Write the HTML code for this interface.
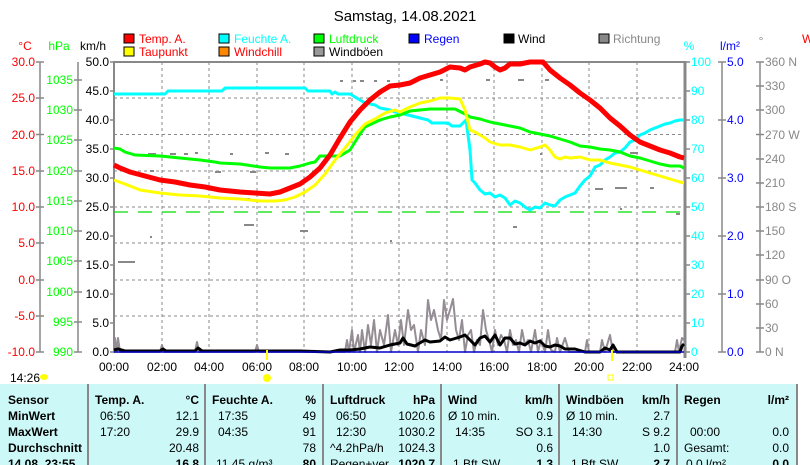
<!DOCTYPE html>
<html><head><meta charset="utf-8"><style>
html,body{margin:0;padding:0;background:#fff;width:810px;height:465px;overflow:hidden}
svg{position:absolute;left:0;top:0}
text{font-family:"Liberation Sans",sans-serif;font-size:12px}
</style></head><body>
<svg width="810" height="465" viewBox="0 0 810 465">
<text x="405" y="21" text-anchor="middle" font-size="15" style="font-size:15px">Samstag, 14.08.2021</text>
<!-- legend -->
<g font-size="12">
<rect x="124" y="34" width="10" height="9" fill="#f00" stroke="#000"/><text x="139" y="43" fill="#f00">Temp. A.</text>
<rect x="124" y="47" width="10" height="9" fill="#ff0" stroke="#000"/><text x="139" y="56" fill="#f00">Taupunkt</text>
<rect x="219" y="34" width="10" height="9" fill="#0ff" stroke="#000"/><text x="234" y="43" fill="#0ff">Feuchte A.</text>
<rect x="219" y="47" width="10" height="9" fill="#f80" stroke="#000"/><text x="234" y="56" fill="#f00">Windchill</text>
<rect x="314" y="34" width="10" height="9" fill="#0f0" stroke="#000"/><text x="329" y="43" fill="#0f0">Luftdruck</text>
<rect x="314" y="47" width="10" height="9" fill="#999" stroke="#000"/><text x="329" y="56">Windböen</text>
<rect x="409" y="34" width="10" height="9" fill="#00f" stroke="#000"/><text x="424" y="43" fill="#00f">Regen</text>
<rect x="504" y="34" width="10" height="9" fill="#000" stroke="#000"/><text x="518" y="43">Wind</text>
<rect x="599" y="34" width="10" height="9" fill="#888" stroke="#000"/><text x="613" y="43" fill="#888">Richtung</text>
</g>
<!-- axis unit labels -->
<text x="25" y="50" text-anchor="middle" fill="#f00">°C</text>
<text x="59" y="50" text-anchor="middle" fill="#0f0">hPa</text>
<text x="93" y="50" text-anchor="middle">km/h</text>
<text x="689" y="50" text-anchor="middle" fill="#0ff">%</text>
<text x="730" y="50" text-anchor="middle" fill="#00f">l/m²</text>
<text x="761" y="45" text-anchor="middle" fill="#888">°</text>
<text x="802" y="43" fill="#f00">W</text>
<!-- grid -->
<g stroke="#888" stroke-dasharray="3,3" stroke-width="1">
<line x1="114" y1="98" x2="684" y2="98"/><line x1="114" y1="134.5" x2="684" y2="134.5"/><line x1="114" y1="171" x2="684" y2="171"/><line x1="114" y1="207" x2="684" y2="207"/><line x1="114" y1="243" x2="684" y2="243"/><line x1="114" y1="280" x2="684" y2="280"/><line x1="114" y1="316" x2="684" y2="316"/>
<line x1="162" y1="62" x2="162" y2="352"/><line x1="209" y1="62" x2="209" y2="352"/><line x1="257" y1="62" x2="257" y2="352"/><line x1="304" y1="62" x2="304" y2="352"/><line x1="352" y1="62" x2="352" y2="352"/><line x1="399" y1="62" x2="399" y2="352"/><line x1="447" y1="62" x2="447" y2="352"/><line x1="494" y1="62" x2="494" y2="352"/><line x1="542" y1="62" x2="542" y2="352"/><line x1="589" y1="62" x2="589" y2="352"/><line x1="637" y1="62" x2="637" y2="352"/>
</g>
<line x1="114" y1="62" x2="684" y2="62" stroke="#888" stroke-width="2"/>
<line x1="114" y1="61" x2="114" y2="353" stroke="#888" stroke-width="2"/>
<line x1="685" y1="61" x2="685" y2="358" stroke="#888" stroke-width="3"/>
<line x1="114" y1="212" x2="684" y2="212" stroke="#0d0" stroke-dasharray="14,10" stroke-width="1.2"/>
<!-- direction dots -->
<g fill="#888">
<rect x="118" y="261" width="17" height="2"/><rect x="353" y="80" width="3" height="2"/><rect x="340" y="80" width="3" height="2"/><rect x="360" y="80" width="4" height="2"/><rect x="374" y="80" width="3" height="2"/><rect x="387" y="80" width="3" height="2"/><rect x="440" y="79" width="3" height="2"/><rect x="486" y="79" width="4" height="2"/><rect x="518" y="79" width="6" height="2"/><rect x="545" y="79" width="4" height="2"/><rect x="560" y="79" width="3" height="2"/><rect x="240" y="198" width="10" height="2"/><rect x="244" y="224" width="10" height="2"/><rect x="300" y="230" width="8" height="2"/><rect x="150" y="236" width="2" height="2"/><rect x="615" y="187" width="12" height="2"/><rect x="650" y="187" width="4" height="2"/><rect x="595" y="188" width="8" height="2"/><rect x="620" y="208" width="2" height="2"/><rect x="676" y="213" width="4" height="2"/><rect x="513" y="226" width="4" height="2"/><rect x="148" y="153" width="8" height="2"/><rect x="170" y="153" width="6" height="2"/><rect x="184" y="153" width="4" height="2"/><rect x="195" y="152" width="3" height="2"/><rect x="230" y="153" width="3" height="2"/><rect x="265" y="152" width="4" height="2"/><rect x="285" y="153" width="4" height="2"/><rect x="150" y="170" width="4" height="2"/><rect x="215" y="171" width="6" height="2"/><rect x="250" y="171" width="6" height="2"/><rect x="390" y="240" width="2" height="2"/><rect x="540" y="153" width="2" height="2"/><rect x="630" y="152" width="8" height="2"/></g>
<!-- series -->
<g fill="none" stroke-linejoin="round">
<polyline stroke="#0ff" stroke-width="3" points="114,94 165,94 168,91 222,91 225,88 305,88 308,91 330,91 332,94 335,92 338,94 350,94 355,97 360,100 365,103 375,105 380,108 390,110 395,112 400,113 428,120 432,123 448,123 452,126 460,126 466,120 470,150 472,180 475,183 480,190 485,194 490,193 495,197 500,195 505,198 510,205 515,201 520,203 525,207 530,210 535,207 540,208 545,203 550,205 555,206 560,200 565,197 570,195 575,193 580,186 585,180 590,176 595,167 600,165 605,160 610,157 615,153 620,152 625,148 630,142 635,140 640,135 645,133 650,130 655,128 660,126 665,124 670,123 675,121 680,120 684,120"/>
<polyline stroke="#0f0" stroke-width="3" points="114,148 120,149 125,152 135,155 160,156 180,158 200,160 215,162 220,163 240,164 260,167 270,168 290,168 300,166 310,163 315,162 320,156 340,156 350,150 355,142 360,134 365,127 380,120 390,117 400,115 410,111 420,110 430,109 440,109 455,109 465,114 470,117 480,119 490,122 500,124 510,126 520,128 530,132 540,134 550,136 560,139 570,142 580,146 590,147 600,149 610,150 620,152 630,156 640,158 650,161 660,164 670,166 680,166 684,168"/>
<polyline stroke="#ff0" stroke-width="3" points="114,180 125,184 140,190 160,193 180,195 200,196 220,198 240,199 260,201 275,201 285,200 295,197 305,192 315,185 325,174 335,160 345,148 355,135 365,124 375,119 385,113 395,110 400,112 410,107 420,103 430,101 440,98 450,98 460,99 465,110 470,130 475,132 480,135 485,138 490,142 500,145 510,145 520,147 530,150 540,147 545,145 550,150 555,157 560,159 565,157 570,158 580,157 590,160 600,160 610,163 620,165 630,167 640,170 650,173 660,176 670,179 680,182 684,183"/>
<polyline stroke="#f00" stroke-width="5" points="114,165 120,168 130,172 145,176 160,180 175,182 190,185 205,187 220,190 240,192 255,193 270,194 280,192 290,188 300,184 310,177 320,168 330,155 340,138 350,122 360,110 370,100 380,92 390,86 400,85 410,83 420,78 430,75 440,72 450,67 460,68 465,70 470,67 480,64 485,62 490,63 495,67 500,70 505,68 510,64 520,64 530,62 543,62 550,70 560,78 570,85 580,93 590,100 600,108 610,118 620,126 630,135 640,142 650,146 660,150 670,153 680,157 684,158"/>
<polyline stroke="#958d94" stroke-width="2" points="114,352 115,338 117,352 118,338 120,352 160,352 162,345 164,352 195,352 197,342 199,352 255,352 257,345 259,352 345,352 347,340 349,352 352,330 354,352 358,335 360,352 362,330 365,352 368,325 371,345 374,320 377,352 380,330 384,345 388,315 391,352 395,330 398,345 401,320 404,345 408,310 411,330 414,325 418,352 421,330 425,345 428,300 431,320 434,310 438,330 441,340 444,300 447,320 450,310 453,299 456,330 459,340 462,320 465,352 468,335 471,330 474,352 477,340 480,345 483,310 486,330 489,340 492,352 495,330 498,345 501,335 504,340 507,352 510,330 513,345 516,340 519,352 522,330 525,345 528,340 531,352 535,330 538,352 541,340 545,352 548,330 551,350 555,352 557,338 560,352 565,338 569,352 585,352 587,340 589,352 600,352 602,340 605,352 610,335 613,352 675,352 677,340 679,352 682,338 684,340"/>
<polyline stroke="#000" stroke-width="3" points="114,350 118,349 125,351 160,351 163,349 166,351 195,351 198,348 202,351 300,351 330,352 340,350 350,350 360,349 370,347 380,348 390,345 400,343 403,338 407,344 415,346 418,344 425,340 430,342 440,341 445,337 450,340 460,337 465,335 470,340 475,345 480,338 485,336 490,342 495,335 500,345 505,338 510,338 515,344 520,343 525,345 530,341 535,343 540,341 545,346 550,347 555,345 560,346 565,349 575,349 585,352 600,352 605,348 610,350 613,345 617,352 680,352 682,346 684,344"/>
</g>
<line x1="114" y1="352" x2="684" y2="352" stroke="#00c" stroke-width="1.5"/>
<!-- left axes -->
<g stroke="#888" stroke-width="1.5"><line x1="40" y1="62" x2="40" y2="352"/><line x1="78" y1="62" x2="78" y2="352"/>
<line x1="36" y1="62" x2="44" y2="62"/><line x1="36" y1="98" x2="44" y2="98"/><line x1="36" y1="134.5" x2="44" y2="134.5"/><line x1="36" y1="171" x2="44" y2="171"/><line x1="36" y1="207" x2="44" y2="207"/><line x1="36" y1="243" x2="44" y2="243"/><line x1="36" y1="280" x2="44" y2="280"/><line x1="36" y1="316" x2="44" y2="316"/><line x1="36" y1="352" x2="44" y2="352"/>
<line x1="74" y1="80" x2="82" y2="80"/><line x1="74" y1="110" x2="82" y2="110"/><line x1="74" y1="140" x2="82" y2="140"/><line x1="74" y1="171" x2="82" y2="171"/><line x1="74" y1="201" x2="82" y2="201"/><line x1="74" y1="231" x2="82" y2="231"/><line x1="74" y1="261" x2="82" y2="261"/><line x1="74" y1="292" x2="82" y2="292"/><line x1="74" y1="322" x2="82" y2="322"/><line x1="74" y1="352" x2="82" y2="352"/>
<line x1="110" y1="62" x2="114" y2="62"/><line x1="110" y1="91" x2="114" y2="91"/><line x1="110" y1="120" x2="114" y2="120"/><line x1="110" y1="149" x2="114" y2="149"/><line x1="110" y1="178" x2="114" y2="178"/><line x1="110" y1="207" x2="114" y2="207"/><line x1="110" y1="236" x2="114" y2="236"/><line x1="110" y1="265" x2="114" y2="265"/><line x1="110" y1="294" x2="114" y2="294"/><line x1="110" y1="323" x2="114" y2="323"/><line x1="110" y1="352" x2="114" y2="352"/>
</g>
<g fill="#f00" text-anchor="end"><text x="35" y="66">30.0</text><text x="35" y="102">25.0</text><text x="35" y="139">20.0</text><text x="35" y="175">15.0</text><text x="35" y="211">10.0</text><text x="35" y="247">5.0</text><text x="35" y="284">0.0</text><text x="35" y="320">-5.0</text><text x="35" y="356">-10.0</text></g>
<g fill="#0f0" text-anchor="end"><text x="73" y="84">1035</text><text x="73" y="114">1030</text><text x="73" y="144">1025</text><text x="73" y="175">1020</text><text x="73" y="205">1015</text><text x="73" y="235">1010</text><text x="73" y="265">1005</text><text x="73" y="296">1000</text><text x="73" y="326">995</text><text x="73" y="356">990</text></g>
<g text-anchor="end"><text x="109" y="66">50.0</text><text x="109" y="95">45.0</text><text x="109" y="124">40.0</text><text x="109" y="153">35.0</text><text x="109" y="182">30.0</text><text x="109" y="211">25.0</text><text x="109" y="240">20.0</text><text x="109" y="269">15.0</text><text x="109" y="298">10.0</text><text x="109" y="327">5.0</text><text x="109" y="356">0.0</text></g>
<!-- right axes -->
<g stroke="#888" stroke-width="1.5"><line x1="722" y1="62" x2="722" y2="352"/><line x1="760" y1="62" x2="760" y2="352"/>
<line x1="718" y1="62" x2="726" y2="62"/><line x1="718" y1="120" x2="726" y2="120"/><line x1="718" y1="178" x2="726" y2="178"/><line x1="718" y1="236" x2="726" y2="236"/><line x1="718" y1="294" x2="726" y2="294"/><line x1="718" y1="352" x2="726" y2="352"/>
<line x1="686" y1="62" x2="690" y2="62"/><line x1="686" y1="91" x2="690" y2="91"/><line x1="686" y1="120" x2="690" y2="120"/><line x1="686" y1="149" x2="690" y2="149"/><line x1="686" y1="178" x2="690" y2="178"/><line x1="686" y1="207" x2="690" y2="207"/><line x1="686" y1="236" x2="690" y2="236"/><line x1="686" y1="265" x2="690" y2="265"/><line x1="686" y1="294" x2="690" y2="294"/><line x1="686" y1="323" x2="690" y2="323"/><line x1="686" y1="352" x2="690" y2="352"/>
<line x1="756" y1="62" x2="764" y2="62"/><line x1="756" y1="86" x2="764" y2="86"/><line x1="756" y1="110" x2="764" y2="110"/><line x1="756" y1="134.5" x2="764" y2="134.5"/><line x1="756" y1="159" x2="764" y2="159"/><line x1="756" y1="183" x2="764" y2="183"/><line x1="756" y1="207" x2="764" y2="207"/><line x1="756" y1="231" x2="764" y2="231"/><line x1="756" y1="255" x2="764" y2="255"/><line x1="756" y1="280" x2="764" y2="280"/><line x1="756" y1="304" x2="764" y2="304"/><line x1="756" y1="328" x2="764" y2="328"/><line x1="756" y1="352" x2="764" y2="352"/>
</g>
<g fill="#0ff"><text x="691" y="66">100</text><text x="691" y="95">90</text><text x="691" y="124">80</text><text x="691" y="153">70</text><text x="691" y="182">60</text><text x="691" y="211">50</text><text x="691" y="240">40</text><text x="691" y="269">30</text><text x="691" y="298">20</text><text x="691" y="327">10</text><text x="691" y="356">0</text></g>
<g fill="#00f"><text x="727" y="66">5.0</text><text x="727" y="124">4.0</text><text x="727" y="182">3.0</text><text x="727" y="240">2.0</text><text x="727" y="298">1.0</text><text x="727" y="356">0.0</text></g>
<g fill="#888"><text x="765" y="66">360 N</text><text x="765" y="90">330</text><text x="765" y="114">300</text><text x="765" y="139">270 W</text><text x="765" y="163">240</text><text x="765" y="187">210</text><text x="765" y="211">180 S</text><text x="765" y="235">150</text><text x="765" y="259">120</text><text x="765" y="284">90  O</text><text x="765" y="308">60</text><text x="765" y="332">30</text><text x="765" y="356">0   N</text></g>
<!-- x labels -->
<g text-anchor="middle"><text x="114" y="371">00:00</text><text x="162" y="371">02:00</text><text x="209" y="371">04:00</text><text x="257" y="371">06:00</text><text x="304" y="371">08:00</text><text x="352" y="371">10:00</text><text x="399" y="371">12:00</text><text x="447" y="371">14:00</text><text x="494" y="371">16:00</text><text x="542" y="371">18:00</text><text x="589" y="371">20:00</text><text x="637" y="371">22:00</text><text x="684" y="371">24:00</text></g>
<text x="10" y="382">14:26</text>
<ellipse cx="44" cy="377" rx="4" ry="3" fill="#ff0"/>
<circle cx="267" cy="378" r="4" fill="#ff0"/>
<line x1="267" y1="350" x2="267" y2="360" stroke="#ff0" stroke-width="2"/>
<line x1="612" y1="350" x2="612" y2="361" stroke="#ff0" stroke-width="2"/>
<rect x="608" y="375" width="5" height="5" fill="none" stroke="#ff0"/>
<!-- table -->
<rect x="0" y="384" width="796" height="81" fill="#ccf8f8"/>
<g stroke="#888" stroke-width="2"><line x1="88" y1="384" x2="88" y2="465"/><line x1="205" y1="384" x2="205" y2="465"/><line x1="323" y1="384" x2="323" y2="465"/><line x1="441" y1="384" x2="441" y2="465"/><line x1="559" y1="384" x2="559" y2="465"/><line x1="677" y1="384" x2="677" y2="465"/><line x1="797" y1="384" x2="797" y2="465"/></g>
<g font-weight="bold"><text x="8" y="404">Sensor</text><text x="8" y="420">MinWert</text><text x="8" y="436">MaxWert</text><text x="8" y="452">Durchschnitt</text><text x="8" y="468">14.08. 23:55</text>
<text x="95" y="404">Temp. A.</text><text x="199" y="404" text-anchor="end">°C</text>
<text x="212" y="404">Feuchte A.</text><text x="316" y="404" text-anchor="end">%</text>
<text x="330" y="404">Luftdruck</text><text x="435" y="404" text-anchor="end">hPa</text>
<text x="448" y="404">Wind</text><text x="553" y="404" text-anchor="end">km/h</text>
<text x="566" y="404">Windböen</text><text x="670" y="404" text-anchor="end">km/h</text>
<text x="684" y="404">Regen</text><text x="789" y="404" text-anchor="end">l/m²</text>
<text x="199" y="468" text-anchor="end">16.8</text><text x="316" y="468" text-anchor="end">80</text><text x="435" y="468" text-anchor="end">1020.7</text><text x="553" y="468" text-anchor="end">1.3</text><text x="670" y="468" text-anchor="end">2.7</text><text x="789" y="468" text-anchor="end">0.0</text></g>
<text x="100" y="420">06:50</text><text x="199" y="420" text-anchor="end">12.1</text>
<text x="100" y="436">17:20</text><text x="199" y="436" text-anchor="end">29.9</text>
<text x="199" y="452" text-anchor="end">20.48</text>
<text x="218" y="420">17:35</text><text x="316" y="420" text-anchor="end">49</text>
<text x="218" y="436">04:35</text><text x="316" y="436" text-anchor="end">91</text>
<text x="316" y="452" text-anchor="end">78</text>
<text x="216" y="468">11.45 g/m³</text>
<text x="336" y="420">06:50</text><text x="435" y="420" text-anchor="end">1020.6</text>
<text x="336" y="436">12:30</text><text x="435" y="436" text-anchor="end">1030.2</text>
<text x="330" y="452">^4.2hPa/h</text><text x="435" y="452" text-anchor="end">1024.3</text>
<text x="330" y="468">Regen+ver.</text>
<text x="448" y="420">Ø 10 min.</text><text x="553" y="420" text-anchor="end">0.9</text>
<text x="455" y="436">14:35</text><text x="553" y="436" text-anchor="end">SO 3.1</text>
<text x="553" y="452" text-anchor="end">0.6</text>
<text x="453" y="468">1 Bft SW</text>
<text x="566" y="420">Ø 10 min.</text><text x="670" y="420" text-anchor="end">2.7</text>
<text x="572" y="436">14:30</text><text x="670" y="436" text-anchor="end">S 9.2</text>
<text x="670" y="452" text-anchor="end">1.0</text>
<text x="571" y="468">1 Bft SW</text>
<text x="690" y="436">00:00</text><text x="789" y="436" text-anchor="end">0.0</text>
<text x="684" y="452">Gesamt:</text><text x="789" y="452" text-anchor="end">0.0</text>
<text x="686" y="468">0.0 l/m²</text>
</svg>
</body></html>
